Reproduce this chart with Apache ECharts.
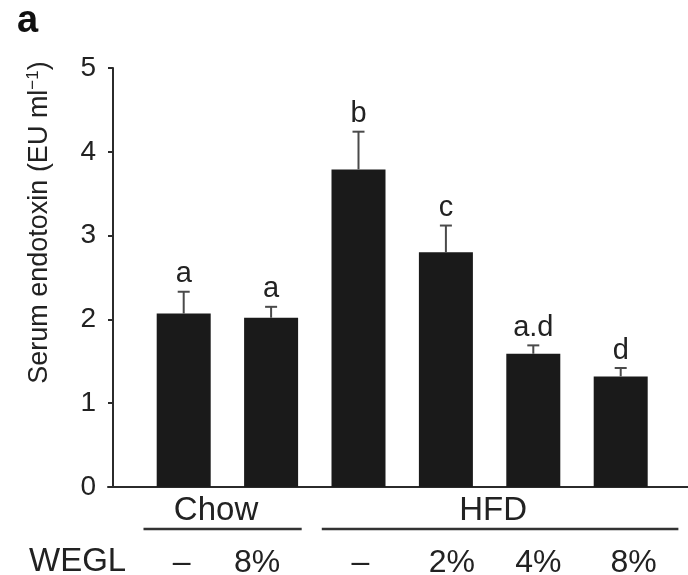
<!DOCTYPE html>
<html>
<head>
<meta charset="utf-8">
<style>
  html, body { margin: 0; padding: 0; background: #fff; }
  #chart { width: 688px; height: 575px; }
</style>
<script src="https://cdn.jsdelivr.net/npm/echarts@6.0.0/dist/echarts.min.js"></script>
</head>
<body>
<div id="chart"></div>
<script>
// data
let weglDose = ['–', '8%', '–', '2%', '4%', '8%']
let endotoxin = [2.07, 2.02, 3.79, 2.80, 1.59, 1.32]
let sem = [0.26, 0.13, 0.45, 0.32, 0.10, 0.10]
let sigLetters = ['a', 'a', 'b', 'c', 'a.d', 'd']
let yTicks = [0, 1, 2, 3, 4, 5]
let groupNames = ['Chow', 'HFD']

// layout (in bar-index units): underline start / end, label centre
let groupSpans = [[-0.46, 1.35, 0.37], [1.58, 5.66, 3.54]]
// small horizontal nudges of the dose labels, px
let doseShift = [-2, -14, 2, 6, 5, 13]

let font = 'Liberation Sans, Arial, Helvetica, sans-serif'
let ink = '#222'
let axisColor = '#2b2b2b'

function renderErr (params, api) {
  let i = api.value(0)
  let base = api.coord([i, api.value(1)])
  let top = api.coord([i, api.value(1) + api.value(2)])
  let cap = 6
  let st = { stroke: '#4a4a4a', lineWidth: 2 }
  return {
    type: 'group',
    children: [
      { type: 'line', shape: { x1: base[0], y1: base[1], x2: top[0], y2: top[1] }, style: st },
      { type: 'line', shape: { x1: top[0] - cap, y1: top[1], x2: top[0] + cap, y2: top[1] }, style: st },
      {
        type: 'text',
        x: top[0],
        y: top[1] - 3,
        style: {
          text: sigLetters[params.dataIndex],
          align: 'center',
          verticalAlign: 'bottom',
          fontSize: 29,
          fontFamily: font,
          fill: ink
        }
      }
    ]
  }
}

function renderGroup (params, api) {
  let a = api.coord([api.value(0), -0.5])
  let b = api.coord([api.value(1), -0.5])
  let c = api.coord([api.value(2), -0.29])
  return {
    type: 'group',
    children: [
      { type: 'line', shape: { x1: a[0], y1: a[1], x2: b[0], y2: b[1] }, style: { stroke: '#333', lineWidth: 2.5 } },
      {
        type: 'text',
        x: c[0],
        y: c[1],
        style: {
          text: groupNames[params.dataIndex],
          align: 'center',
          verticalAlign: 'middle',
          fontSize: 33,
          fontFamily: font,
          fill: ink
        }
      }
    ]
  }
}

let rich = {}
doseShift.forEach((s, i) => {
  rich['d' + i] = {
    fontSize: 32,
    fontFamily: font,
    color: ink,
    padding: s > 0 ? [0, 0, 0, 2 * s] : [0, -2 * s, 0, 0]
  }
})

let option = {
  animation: false,
  textStyle: { fontFamily: font },
  title: [
    {
      text: 'a',
      left: 17,
      top: 3,
      padding: 0,
      textStyle: { fontSize: 38, fontWeight: 'bold', color: '#111', fontFamily: font }
    },
    {
      text: 'WEGL',
      left: 29,
      top: 545,
      padding: 0,
      textStyle: { fontSize: 33, fontWeight: 'normal', color: ink, fontFamily: font }
    }
  ],
  grid: [
    { left: 140, right: 23.6, top: 68, bottom: 88, outerBoundsMode: 'none' },
    { left: 108, right: 0, top: 68, bottom: 88, outerBoundsMode: 'none' }
  ],
  xAxis: [
    {
      type: 'category',
      gridIndex: 0,
      data: weglDose,
      axisLine: { show: false },
      axisTick: { show: false },
      axisLabel: {
        margin: 60,
        formatter: function (v, i) { return '{d' + i + '|' + v + '}' },
        rich: rich
      }
    },
    { type: 'value', gridIndex: 0, min: -0.5, max: 5.5, show: false },
    {
      type: 'value',
      gridIndex: 1,
      min: 0,
      max: 1,
      axisLine: { show: true, lineStyle: { color: axisColor, width: 2 } },
      axisTick: { show: false },
      axisLabel: { show: false },
      splitLine: { show: false }
    }
  ],
  yAxis: [
    {
      type: 'value',
      gridIndex: 0,
      min: yTicks[0],
      max: yTicks[yTicks.length - 1],
      interval: 1,
      offset: 27,
      axisLine: { show: true, onZero: false, lineStyle: { color: axisColor, width: 2 } },
      axisTick: { show: true, length: 5, lineStyle: { color: axisColor, width: 2 } },
      splitLine: { show: false },
      axisLabel: { fontSize: 28, color: ink, margin: 17 },
      name: 'Serum endotoxin (EU ml{sup|−1})',
      nameLocation: 'middle',
      nameGap: 59,
      nameTextStyle: {
        fontSize: 27,
        color: ink,
        padding: [0, 0, 0, 110],
        rich: { sup: { fontSize: 17, color: ink, padding: [0, 0, 12, 0] } }
      }
    },
    { type: 'value', gridIndex: 1, min: 0, max: 5, show: false }
  ],
  series: [
    {
      type: 'bar',
      xAxisIndex: 0,
      yAxisIndex: 0,
      data: endotoxin,
      barWidth: 54,
      itemStyle: { color: '#1a1a1a' }
    },
    {
      type: 'custom',
      xAxisIndex: 0,
      yAxisIndex: 0,
      z: 3,
      clip: false,
      renderItem: renderErr,
      data: endotoxin.map((v, i) => [i, v, sem[i]])
    },
    {
      type: 'custom',
      xAxisIndex: 1,
      yAxisIndex: 0,
      clip: false,
      renderItem: renderGroup,
      data: groupSpans
    }
  ]
}

let myChart = echarts.init(document.getElementById('chart'))
myChart.setOption(option, true)
</script>
</body>
</html>
